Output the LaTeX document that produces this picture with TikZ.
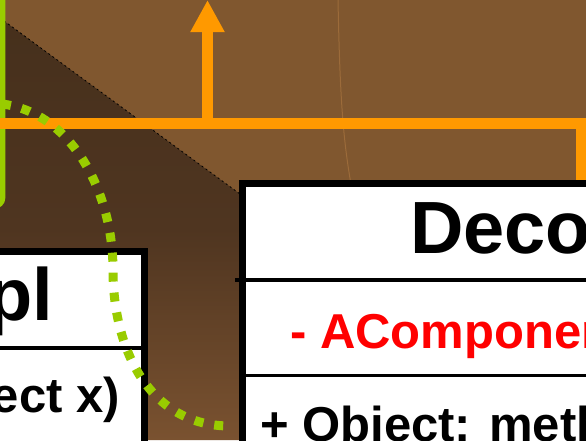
\documentclass[tikz,border=0pt]{standalone}
\usepackage{fontspec}
\setmainfont{Liberation Sans}
\usetikzlibrary{arrows.meta,positioning}

\definecolor{woodbrown}{HTML}{80572F}
\definecolor{shadowbrown}{HTML}{46301C}
\definecolor{midbrown}{HTML}{4F3520}
\definecolor{fadebrown}{HTML}{7A5230}
\definecolor{grainbrown}{HTML}{9C6B3A}
\definecolor{umlorange}{HTML}{FF9900}
\definecolor{umlgreen}{HTML}{99CC00}

\tikzset{
  classbox/.style={draw=black, line width=7pt, fill=white, rectangle, inner sep=0pt, outer sep=0pt},
  notebox/.style={draw=umlgreen, line width=5.5pt, rectangle, rounded corners=8pt, inner sep=0pt, outer sep=0pt},
  divider/.style={line width=3.5pt},
  classname/.style={font=\fontsize{74}{80}\selectfont\bfseries, inner sep=0pt},
  member/.style={font=\fontsize{49}{54}\selectfont\bfseries, inner sep=0pt},
  link/.style={draw=umlorange, line width=11.5pt},
  depend/.style={draw=umlgreen, line width=9pt, dash pattern=on 9pt off 11pt},
}

\begin{document}
\begin{tikzpicture}[x=1pt,y=-1pt]
  \useasboundingbox (0,0) rectangle (586,440);

  % background and shadow band
  \fill[woodbrown] (0,0) rectangle (586,440);
  \shade[top color=shadowbrown, bottom color=fadebrown, middle color=midbrown]
    (0,18) -- (240,194) -- (240,440) -- (0,440) -- cycle;
  \draw[black, line width=0.8pt, dash pattern=on 2pt off 3pt] (0,18) -- (240,194);
  \draw[grainbrown, line width=1pt] (338,0) .. controls (340,100) and (343,140) .. (352,190);

  % note on the left
  \node[notebox, minimum width=300pt, minimum height=300pt, anchor=south east] (note) at (2.5,206) {};

  % orange bus and arrow
  \coordinate (busin) at (-10,123.5);
  \coordinate (busturn) at (582,123.5);
  \coordinate (bustap) at (207.5,123.5);
  \coordinate (upper) at (207.5,0);
  \coordinate (decotop) at (582,190);
  \draw[link] (busin) -- (busturn) -- (decotop);
  \draw[link, -{Triangle[width=32pt,length=32pt]}] (bustap) -- (upper);

  % class boxes
  \node[classbox, minimum width=500pt, minimum height=400pt, anchor=north east] (impl) at (144,251.5) {};
  \draw[divider] (impl.west |- 0,348) -- (impl.east |- 0,348);
  \node[classname, anchor=base east] (implname) at (53,320) {ComponentImpl};
  \node[member, anchor=base east] (implop) at (120,412) {+ Object: method(Object x)};

  \node[classbox, minimum width=600pt, minimum height=400pt, anchor=north west] (deco) at (242,183.5) {};
  \draw[divider] ([xshift=-7pt]deco.west |- 0,280) -- (deco.east |- 0,280);
  \draw[divider] (deco.west |- 0,375.5) -- (deco.east |- 0,375.5);
  \node[classname, anchor=base west] (deconame) at (410,253) {Decorator};
  \node[member, anchor=base west, text=red] (decoattr) at (290,348) {- AComponent};
  \node[member, anchor=base west] (decoop) at (260,441) {+ Object: method(Object x)};

  % dotted dependency from the note
  \coordinate (noteout) at (2,104);
  \coordinate (decoin) at (230,426);
  \draw[depend] (noteout) .. controls (70,112) and (113,190) .. (113,270)
    .. controls (113,350) and (150,426) .. (decoin);
\end{tikzpicture}
\end{document}
